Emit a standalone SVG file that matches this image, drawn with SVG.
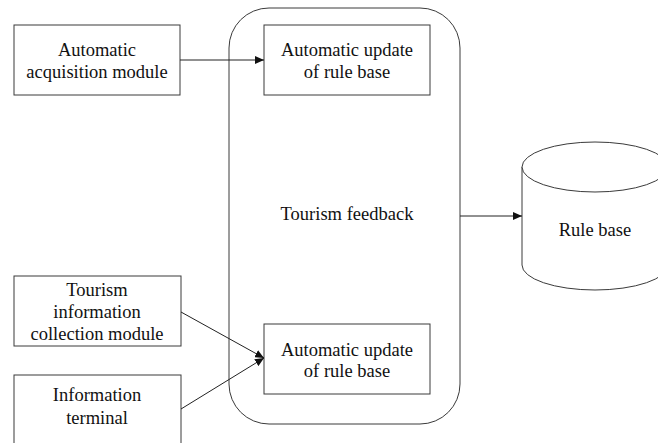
<svg xmlns="http://www.w3.org/2000/svg" width="658" height="443" viewBox="0 0 658 443">
<style>
.box{fill:#fff;stroke:#3a3a3a;stroke-width:1}
.t{font-family:'Liberation Serif','Times New Roman',serif;font-size:18.5px;fill:#111;text-anchor:middle}
.c{fill:none;stroke:#222;stroke-width:1}
</style>
<defs>
<marker id="ah" markerWidth="10" markerHeight="8" refX="9" refY="4" orient="auto" markerUnits="userSpaceOnUse">
<path d="M0,0 L9,4 L0,8 Z" fill="#111"/>
</marker>
</defs>
<rect width="658" height="443" fill="#fff"/>
<g id="feedback">
<rect class="box" x="229" y="8" width="231" height="416" rx="40" ry="40"/>
<text class="t" x="347" y="220">Tourism feedback</text>
</g>
<g id="acq">
<rect class="box" x="14" y="25" width="166" height="70"/>
<text class="t" x="97" y="56">Automatic</text>
<text class="t" x="97" y="78">acquisition module</text>
</g>
<g id="update1">
<rect class="box" x="264" y="25" width="166" height="70"/>
<text class="t" x="347" y="56">Automatic update</text>
<text class="t" x="347" y="78">of rule base</text>
</g>
<g id="update2">
<rect class="box" x="264" y="324" width="166" height="70"/>
<text class="t" x="347" y="355.5">Automatic update</text>
<text class="t" x="347" y="377">of rule base</text>
</g>
<g id="tic">
<rect class="box" x="14" y="276" width="167" height="70"/>
<text class="t" x="97" y="296">Tourism</text>
<text class="t" x="97" y="318">information</text>
<text class="t" x="97" y="340">collection module</text>
</g>
<g id="terminal">
<rect class="box" x="14" y="375" width="167" height="80"/>
<text class="t" x="97" y="401">Information</text>
<text class="t" x="97" y="424">terminal</text>
</g>
<g id="rulebase">
<path class="box" d="M522,167 L522,265 A73,25 0 0 0 668,265 L668,167"/>
<ellipse class="box" cx="595" cy="167" rx="73" ry="25"/>
<text class="t" x="595" y="236">Rule base</text>
</g>
<g id="connectors">
<line class="c" x1="180" y1="60" x2="264" y2="60" marker-end="url(#ah)"/>
<line class="c" x1="181" y1="312" x2="264" y2="358" marker-end="url(#ah)"/>
<line class="c" x1="181" y1="409" x2="264" y2="358" marker-end="url(#ah)"/>
<line class="c" x1="460" y1="216" x2="522" y2="216" marker-end="url(#ah)"/>
</g>
</svg>
